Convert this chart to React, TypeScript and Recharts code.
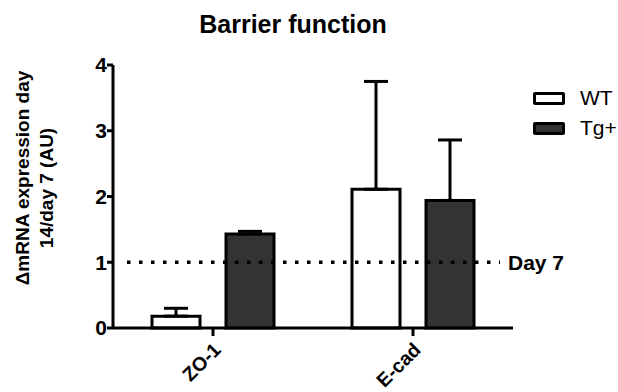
import React from 'react';
import { BarChart, Bar, XAxis, YAxis, ErrorBar, ReferenceLine, Legend } from 'recharts';

const categories = ['ZO-1', 'E-cad'];
const wtValues = [0.18, 2.11];
const wtErrors = [0.12, 1.64];
const tgValues = [1.43, 1.94];
const tgErrors = [0.04, 0.92];
const yTicks = [0, 1, 2, 3, 4];
const seriesNames = ['WT', 'Tg+'];
const referenceValue = 1;
const referenceLabel = 'Day 7';
const title = 'Barrier function';
const yLabelLines = ['\u0394mRNA expression day', '14/day 7 (AU)'];

const FONT = '"Liberation Sans", Arial, Helvetica, sans-serif';

const data = categories.map((c, i) => ({
  name: c,
  wt: wtValues[i],
  wtErr: [0, wtErrors[i]],
  tg: tgValues[i],
  tgErr: [0, tgErrors[i]],
}));

const XTick = (props: any) => {
  const { x, y, payload } = props;
  return (
    <text
      transform={`translate(${x + 9},${y + 13}) rotate(-45)`}
      textAnchor="end"
      fontSize={19.5}
      fontWeight="bold"
      fontFamily={FONT}
      fill="#000"
    >
      {payload.value}
    </text>
  );
};

const RefShape = (p: any) => (
  <g>
    <line
      x1={p.x1 + 14}
      y1={p.y1}
      x2={p.x2 - 13}
      y2={p.y2}
      stroke="#000"
      strokeWidth={3.5}
      strokeDasharray="3.5 8.5"
    />
    <text
      x={p.x2 - 5}
      y={p.y1}
      dy="0.36em"
      fontSize={21}
      fontWeight="bold"
      fontFamily={FONT}
      fill="#000"
    >
      {referenceLabel}
    </text>
  </g>
);

const renderLegend = (props: any) => {
  const payload = [...(props.payload || [])].sort(
    (a: any, b: any) => seriesNames.indexOf(a.value) - seriesNames.indexOf(b.value)
  );
  return (
    <div style={{ fontFamily: FONT, fontSize: 21, color: '#000' }}>
      {payload.map((entry: any, i: number) => (
        <div key={i} style={{ display: 'flex', alignItems: 'center', height: 30 }}>
          <span
            style={{
              display: 'inline-block',
              width: 26,
              height: 7,
              border: '3px solid #000',
              borderRadius: 2,
              background: entry.color,
            }}
          />
          <span style={{ marginLeft: 15, lineHeight: '30px' }}>{entry.value}</span>
        </div>
      ))}
    </div>
  );
};

export default function App() {
  return (
    <div style={{ position: 'absolute', left: 0, top: 0, width: 618, height: 392, background: '#fff' }}>
      <BarChart
        width={618}
        height={392}
        data={data}
        margin={{ top: 65, right: 105, bottom: 0, left: 0 }}
        barSize={48}
        barGap={26}
      >
        <XAxis
          dataKey="name"
          height={64}
          axisLine={{ stroke: '#000', strokeWidth: 3 }}
          tickLine={{ stroke: '#000', strokeWidth: 3 }}
          tickSize={8}
          tick={<XTick />}
          interval={0}
        />
        <YAxis
          width={113}
          domain={[0, 4]}
          ticks={yTicks}
          axisLine={{ stroke: '#000', strokeWidth: 3 }}
          tickLine={{ stroke: '#000', strokeWidth: 3 }}
          tickSize={6}
          tickMargin={0}
          tick={{ fill: '#000', fontSize: 21, fontWeight: 'bold', fontFamily: FONT }}
        />
        <Legend
          layout="vertical"
          align="center"
          verticalAlign="middle"
          content={renderLegend}
          wrapperStyle={{ left: 533, top: 83, width: 85 }}
        />
        <Bar dataKey="wt" name={seriesNames[0]} fill="#ffffff" stroke="#000" strokeWidth={3} isAnimationActive={false}>
          <ErrorBar dataKey="wtErr" width={12} stroke="#000" strokeWidth={3} direction="y" isAnimationActive={false} />
        </Bar>
        <Bar dataKey="tg" name={seriesNames[1]} fill="#333333" stroke="#000" strokeWidth={3} isAnimationActive={false}>
          <ErrorBar dataKey="tgErr" width={12} stroke="#000" strokeWidth={3} direction="y" isAnimationActive={false} />
        </Bar>
        <ReferenceLine y={referenceValue} shape={<RefShape />} />
      </BarChart>
      <svg
        width={618}
        height={392}
        style={{ position: 'absolute', left: 0, top: 0, pointerEvents: 'none' }}
      >
        <text x={293} y={33} textAnchor="middle" fontSize={25} fontWeight="bold" fontFamily={FONT} fill="#000">
          {title}
        </text>
        <text
          transform="translate(29,178) rotate(-90)"
          textAnchor="middle"
          fontSize={19}
          fontWeight="bold"
          fontFamily={FONT}
          fill="#000"
        >
          {yLabelLines[0]}
        </text>
        <text
          transform="translate(53,188) rotate(-90)"
          textAnchor="middle"
          fontSize={19}
          fontWeight="bold"
          fontFamily={FONT}
          fill="#000"
        >
          {yLabelLines[1]}
        </text>
      </svg>
    </div>
  );
}
